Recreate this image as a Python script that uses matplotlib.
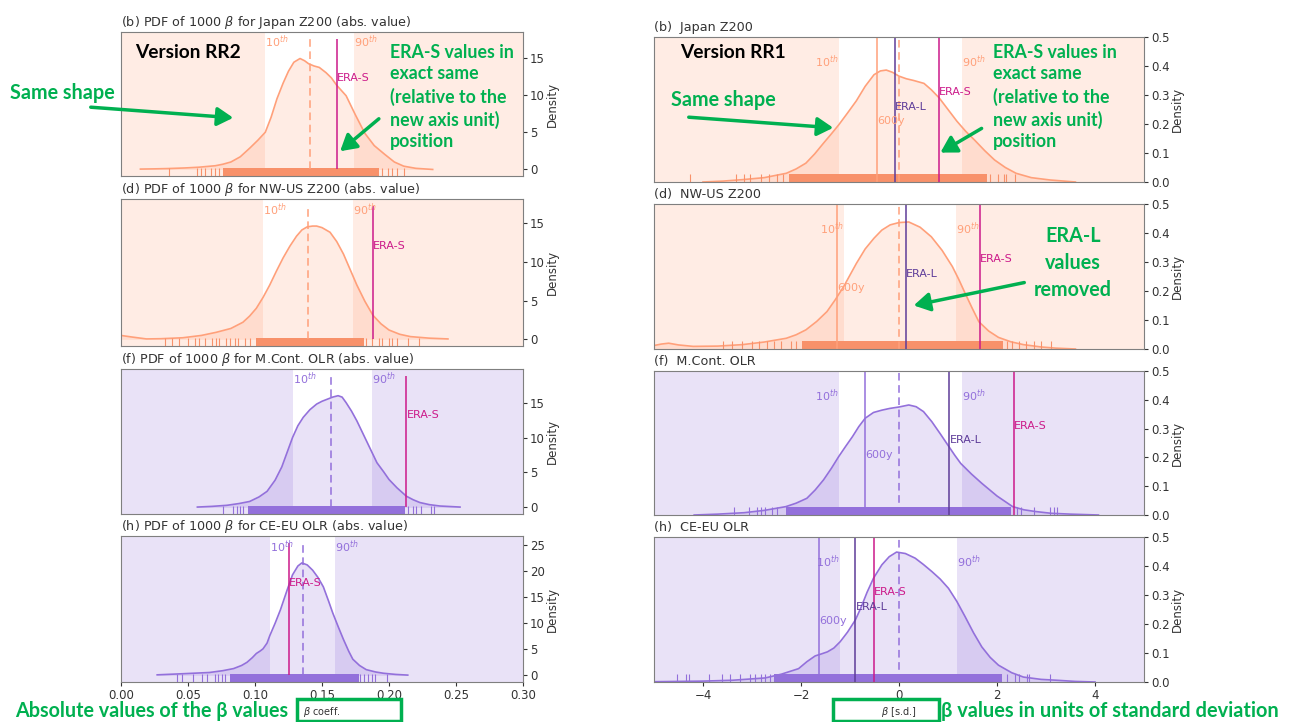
import matplotlib.pyplot as plt
from matplotlib.patches import Rectangle, FancyArrowPatch

W, H = 1290, 722

salmon = "#ffa07a"
salmon_rug = "#f8916a"
purple = "#9370db"
purple_rug = "#9370db"
era_s_col = "#cc1a8a"
era_l_col = "#5e3c99"
green = "#00b050"

# ---------------- RR2 : absolute beta values (left column) ----------------
rr2_titles = ["(b) PDF of 1000 $\\beta$ for Japan Z200 (abs. value)",
              "(d) PDF of 1000 $\\beta$ for NW-US Z200 (abs. value)",
              "(f) PDF of 1000 $\\beta$ for M.Cont. OLR (abs. value)",
              "(h) PDF of 1000 $\\beta$ for CE-EU OLR (abs. value)"]
rr2_p10 = [0.1077, 0.106, 0.128, 0.111]
rr2_p90 = [0.1738, 0.173, 0.187, 0.160]
rr2_median = [0.1408, 0.1396, 0.157, 0.136]
rr2_eras = [0.1614, 0.188, 0.213, 0.1254]
rr2_yticks = [[0, 5, 10, 15], [0, 5, 10, 15], [0, 5, 10, 15], [0, 5, 10, 15, 20, 25]]

jap2_x = [0.0145, 0.025, 0.035, 0.0475, 0.058, 0.0704, 0.076, 0.082, 0.089, 0.0963, 0.102,
          0.1077, 0.112, 0.1164, 0.121, 0.125, 0.129, 0.1336, 0.137, 0.140, 0.144, 0.148,
          0.153, 0.157, 0.161, 0.168, 0.175, 0.182, 0.189, 0.197, 0.204, 0.211, 0.220, 0.2326]
jap2_y = [0.05, 0.08, 0.12, 0.2, 0.3, 0.5, 0.7, 1.0, 1.7, 2.9, 3.9,
          5.0, 7.0, 9.5, 11.6, 13.2, 14.4, 14.9, 14.6, 14.2, 13.9, 13.7,
          13.0, 12.3, 11.3, 9.9, 7.3, 4.85, 3.2, 2.0, 1.0, 0.44, 0.15, 0.0]
nwus2_x = [0.0, 0.008, 0.019, 0.03, 0.046, 0.06, 0.071, 0.082, 0.091, 0.096, 0.101, 0.106,
           0.111, 0.116, 0.121, 0.126, 0.131, 0.135, 0.139, 0.143, 0.146, 0.150, 0.156,
           0.161, 0.166, 0.171, 0.176, 0.182, 0.188, 0.194, 0.200, 0.208, 0.216, 0.230, 0.244]
nwus2_y = [0.5, 0.3, 0.05, 0.08, 0.2, 0.5, 0.9, 1.4, 2.2, 3.0, 4.0, 5.4,
           7.0, 8.8, 10.5, 12.0, 13.3, 14.1, 14.5, 14.6, 14.6, 14.4, 13.8,
           12.6, 11.0, 9.0, 7.0, 4.9, 3.1, 2.0, 1.2, 0.65, 0.35, 0.15, 0.05]
mcont2_x = [0.057, 0.068, 0.079, 0.088, 0.096, 0.103, 0.109, 0.115, 0.12, 0.124, 0.128, 0.132,
            0.136, 0.141, 0.146, 0.150, 0.154, 0.158, 0.162, 0.165, 0.168, 0.172, 0.176,
            0.180, 0.183, 0.187, 0.191, 0.196, 0.200, 0.206, 0.213, 0.218, 0.223, 0.230,
            0.238, 0.253]
mcont2_y = [0.05, 0.15, 0.3, 0.55, 0.85, 1.5, 2.3, 3.9, 5.8, 7.9, 10.0, 11.7,
            12.9, 14.0, 14.8, 15.2, 15.5, 15.8, 16.0, 15.8, 15.0, 13.8, 12.4,
            10.8, 9.6, 8.0, 6.4, 5.1, 4.0, 2.8, 1.6, 1.1, 0.7, 0.4,
            0.2, 0.05]
ceeu2_x = [0.027, 0.045, 0.066, 0.076, 0.084, 0.090, 0.094, 0.098, 0.101, 0.104, 0.106, 0.109,
           0.111, 0.115, 0.119, 0.124, 0.128, 0.132, 0.135, 0.139, 0.143, 0.147, 0.151,
           0.155, 0.158, 0.162, 0.166, 0.170, 0.173, 0.178, 0.183, 0.190, 0.196, 0.205, 0.214]
ceeu2_y = [0.1, 0.3, 0.55, 0.9, 1.3, 1.9, 2.5, 3.4, 4.2, 4.7, 5.1, 6.2,
           7.6, 10.0, 12.6, 16.4, 19.3, 21.0, 21.6, 21.2, 20.2, 18.8, 17.0,
           14.2, 12.0, 9.4, 6.9, 4.6, 3.1, 1.9, 1.1, 0.65, 0.4, 0.18, 0.05]

# rug: dense core range + the scattered ticks outside it
rr2_rug_lo = [0.076, 0.101, 0.095, 0.0811]
rr2_rug_hi = [0.1925, 0.181, 0.212, 0.1773]
jap2_rug = [0.036, 0.057, 0.060, 0.063, 0.067, 0.070, 0.073, 0.195, 0.199, 0.202, 0.206, 0.211]
nwus2_rug = [0.033, 0.038, 0.043, 0.050, 0.055, 0.0585, 0.063, 0.068, 0.0706, 0.073, 0.078,
             0.0816, 0.085, 0.0875, 0.0925, 0.096, 0.1826, 0.1876, 0.1926, 0.195, 0.2,
             0.2025, 0.206, 0.2139, 0.2226]
mcont2_rug = [0.0764, 0.0838, 0.0863, 0.0888, 0.0913, 0.2139, 0.2176, 0.2201, 0.2239,
              0.2313, 0.2338]
ceeu2_rug = [0.0415, 0.0453, 0.054, 0.0602, 0.064, 0.0702, 0.0726, 0.0751, 0.0776,
             0.1785, 0.181, 0.1847, 0.1872, 0.1897, 0.1984]

# ---------------- RR1 : beta in s.d. units (right column) ----------------
rr1_titles = ["(b)  Japan Z200", "(d)  NW-US Z200", "(f)  M.Cont. OLR", "(h)  CE-EU OLR"]
rr1_p10 = [-1.23, -1.13, -1.23, -1.2]
rr1_p90 = [1.29, 1.16, 1.28, 1.18]
rr1_600y = [-0.44, -1.26, -0.69, -1.63]
rr1_eral = [-0.08, 0.15, 1.03, -0.89]
rr1_eras = [0.82, 1.65, 2.34, -0.52]

jap1_x = [-4.0, -3.6, -3.2, -2.75, -2.3, -2.1, -1.9, -1.72, -1.54, -1.38, -1.23, -1.05, -0.87,
          -0.69, -0.51, -0.38, -0.26, -0.13, 0.0, 0.15, 0.3, 0.51, 0.66, 0.82, 1.0, 1.18,
          1.36, 1.54, 1.75, 1.95, 2.17, 2.39, 2.7, 3.08, 3.6]
jap1_y = [0.0, 0.003, 0.008, 0.015, 0.03, 0.045, 0.065, 0.097, 0.134, 0.166, 0.197, 0.238, 0.28,
          0.33, 0.37, 0.383, 0.386, 0.378, 0.365, 0.356, 0.350, 0.34, 0.318, 0.29, 0.25, 0.21,
          0.175, 0.145, 0.108, 0.076, 0.05, 0.03, 0.015, 0.007, 0.0]
nwus1_x = [-5.0, -4.85, -4.7, -4.5, -4.2, -3.7, -3.2, -2.75, -2.3, -2.1, -1.9, -1.68, -1.47,
           -1.3, -1.13, -1.0, -0.87, -0.69, -0.51, -0.35, -0.18, 0.0, 0.2, 0.43, 0.66, 0.88,
           1.09, 1.22, 1.35, 1.49, 1.63, 1.83, 2.03, 2.28, 2.54, 2.9, 3.2, 3.6]
nwus1_y = [0.012, 0.017, 0.02, 0.014, 0.009, 0.01, 0.015, 0.024, 0.037, 0.049, 0.066, 0.095,
           0.129, 0.17, 0.215, 0.255, 0.295, 0.345, 0.382, 0.41, 0.428, 0.436, 0.438, 0.42,
           0.387, 0.34, 0.284, 0.24, 0.192, 0.142, 0.094, 0.062, 0.04, 0.025, 0.015, 0.007,
           0.003, 0.0]
mcont1_x = [-4.18, -3.7, -3.16, -2.75, -2.31, -2.1, -1.88, -1.71, -1.54, -1.38, -1.23, -1.09,
            -0.95, -0.82, -0.69, -0.52, -0.35, -0.19, 0.0, 0.2, 0.35, 0.5, 0.67, 0.85, 1.02,
            1.14, 1.26, 1.48, 1.69, 2.0, 2.32, 2.55, 2.79, 3.1, 3.5, 4.07]
mcont1_y = [0.0, 0.003, 0.008, 0.016, 0.029, 0.041, 0.058, 0.087, 0.122, 0.162, 0.203, 0.238,
            0.272, 0.307, 0.336, 0.356, 0.364, 0.370, 0.375, 0.382, 0.376, 0.359, 0.324,
            0.28, 0.237, 0.207, 0.179, 0.142, 0.110, 0.066, 0.029, 0.018, 0.012, 0.006,
            0.003, 0.0]
ceeu1_x = [-5.0, -4.5, -4.01, -3.4, -2.73, -2.4, -2.05, -1.88, -1.71, -1.58, -1.46, -1.33,
           -1.2, -1.05, -0.89, -0.78, -0.65, -0.52, -0.35, -0.2, -0.05, 0.13, 0.33, 0.5,
           0.67, 0.84, 1.01, 1.18, 1.35, 1.52, 1.69, 1.86, 2.03, 2.3, 2.54, 2.9, 3.22, 3.6, 4.0]
ceeu1_y = [0.001, 0.002, 0.003, 0.006, 0.014, 0.027, 0.046, 0.07, 0.09, 0.097, 0.104, 0.117,
           0.139, 0.172, 0.214, 0.255, 0.31, 0.358, 0.404, 0.432, 0.448, 0.443, 0.427, 0.405,
           0.381, 0.355, 0.323, 0.278, 0.225, 0.17, 0.121, 0.085, 0.058, 0.032, 0.017,
           0.009, 0.006, 0.002, 0.0]

rr1_rug_lo = [-2.24, -1.98, -2.31, -2.56]
rr1_rug_hi = [1.8, 2.13, 2.28, 2.11]
jap1_rug = [-4.27, -3.33, -3.16, -3.04, -2.82, -2.65, -2.48, -2.36, 1.85, 2.02, 2.15, 2.19, 2.36]
nwus1_rug = [-3.6, -3.4, -3.2, -3.0, -2.85, -2.7, -2.55, -2.4, -2.2, -2.1, 2.2, 2.3, 2.45,
             2.6, 2.75, 2.9, 3.1]
mcont1_rug = [-3.37, -3.06, -2.9, -2.82, -2.73, -2.6, -2.48, 2.41, 2.49, 2.75, 3.09, 3.17, 3.22]
ceeu1_rug = [-4.54, -4.35, -4.28, -3.88, -3.62, -3.45, -3.24, -3.05, -2.94, -2.82, -2.73,
             -2.63, 2.2, 2.37, 2.45, 2.62, 2.66, 3.09]

rr2_curves = [(jap2_x, jap2_y), (nwus2_x, nwus2_y), (mcont2_x, mcont2_y), (ceeu2_x, ceeu2_y)]
rr2_rugs = [jap2_rug, nwus2_rug, mcont2_rug, ceeu2_rug]
rr1_curves = [(jap1_x, jap1_y), (nwus1_x, nwus1_y), (mcont1_x, mcont1_y), (ceeu1_x, ceeu1_y)]
rr1_rugs = [jap1_rug, nwus1_rug, mcont1_rug, ceeu1_rug]

row_cols = [(salmon, salmon_rug), (salmon, salmon_rug), (purple, purple_rug), (purple, purple_rug)]

# pixel boxes of the pasted panels (top, bottom)
left_rows = [(32, 176), (199, 346), (369, 514), (536, 682)]
right_rows = [(37, 182), (204, 349), (371, 515), (537, 682)]

fig = plt.figure(figsize=(W / 100, H / 100), dpi=100)


def px_axes(x0, x1, y0, y1):
    return fig.add_axes([x0 / W, 1 - y1 / H, (x1 - x0) / W, (y1 - y0) / H])


def style(ax):
    for s in ax.spines.values():
        s.set_color("#7f7f7f")
    ax.yaxis.tick_right()
    ax.yaxis.set_label_position("right")
    ax.tick_params(labelsize=8.5, colors="#333333", length=3, pad=2)
    ax.set_ylabel("Density", fontsize=8.5, color="#333333", labelpad=1)


RUG_H = 0.055

for i in range(4):
    col, rugc = row_cols[i]
    # ---- left (RR2)
    ax = px_axes(121, 523, *left_rows[i])
    style(ax)
    cx, cy = rr2_curves[i]
    top = 1.18 * max(cy)
    ax.set_xlim(0, 0.30)
    ax.set_ylim(-0.05 * top, 1.05 * top)
    ax.axvspan(0, rr2_p10[i], color=col, alpha=0.2, lw=0)
    ax.axvspan(rr2_p90[i], 0.30, color=col, alpha=0.2, lw=0)
    ax.fill_between(cx, cy, color=col, alpha=0.2, lw=0)
    ax.plot(cx, cy, color=col, lw=1.2)
    ax.axvspan(rr2_rug_lo[i], rr2_rug_hi[i], ymin=0, ymax=RUG_H, color=rugc, lw=0)
    ax.vlines(rr2_rugs[i], 0, RUG_H, transform=ax.get_xaxis_transform(), color=rugc, lw=0.8)
    ax.vlines(rr2_median[i], 0, top, color=col, lw=1.1, linestyles=(0, (5, 3)))
    ax.vlines(rr2_eras[i], 0, top, color=era_s_col, lw=1.1)
    tr = ax.get_xaxis_transform()
    ax.text(rr2_p10[i], 0.93, "10$^{th}$", transform=tr, color=col, fontsize=8, ha="left", va="center")
    ax.text(rr2_p90[i], 0.93, "90$^{th}$", transform=tr, color=col, fontsize=8, ha="left", va="center")
    ax.text(rr2_eras[i], 0.68, "ERA-S", transform=tr, color=era_s_col, fontsize=8, ha="left", va="center")
    ax.set_yticks(rr2_yticks[i])
    ax.set_title(rr2_titles[i], loc="left", fontsize=9.2, color="#333333", pad=4)
    if i < 3:
        ax.set_xticks([])
    else:
        ax.set_xticks([0.0, 0.05, 0.10, 0.15, 0.20, 0.25, 0.30])
        ax.set_xticklabels(["0.00", "0.05", "0.10", "0.15", "0.20", "0.25", "0.30"])
        ax.set_xlabel("$\\beta$ coeff.", fontsize=7, color="#333333", labelpad=2)

    # ---- right (RR1)
    ax = px_axes(654, 1144, *right_rows[i])
    style(ax)
    cx, cy = rr1_curves[i]
    ax.set_xlim(-5, 5)
    ax.set_ylim(0, 0.5)
    ax.axvspan(-5, rr1_p10[i], color=col, alpha=0.2, lw=0)
    ax.axvspan(rr1_p90[i], 5, color=col, alpha=0.2, lw=0)
    ax.fill_between(cx, cy, color=col, alpha=0.2, lw=0)
    ax.plot(cx, cy, color=col, lw=1.2)
    ax.axvspan(rr1_rug_lo[i], rr1_rug_hi[i], ymin=0, ymax=RUG_H, color=rugc, lw=0)
    ax.vlines(rr1_rugs[i], 0, RUG_H, transform=ax.get_xaxis_transform(), color=rugc, lw=0.8)
    ax.axvline(0, color=col, lw=1.1, ls=(0, (5, 3)))
    ax.axvline(rr1_600y[i], color=col, lw=1.1)
    ax.axvline(rr1_eral[i], color=era_l_col, lw=1.1)
    ax.axvline(rr1_eras[i], color=era_s_col, lw=1.1)
    tr = ax.get_xaxis_transform()
    ax.text(rr1_p10[i], 0.83, "10$^{th}$", transform=tr, color=col, fontsize=8, ha="right", va="center")
    ax.text(rr1_p90[i], 0.83, "90$^{th}$", transform=tr, color=col, fontsize=8, ha="left", va="center")
    ax.text(rr1_eras[i], 0.62, "ERA-S", transform=tr, color=era_s_col, fontsize=8, ha="left", va="center")
    ax.text(rr1_eral[i], 0.52, "ERA-L", transform=tr, color=era_l_col, fontsize=8, ha="left", va="center")
    ax.text(rr1_600y[i], 0.42, "600y", transform=tr, color=col, fontsize=8, ha="left", va="center")
    ax.set_yticks([0.0, 0.1, 0.2, 0.3, 0.4, 0.5])
    ax.set_title(rr1_titles[i], loc="left", fontsize=9.2, color="#333333", pad=4)
    if i < 3:
        ax.set_xticks([])
    else:
        ax.set_xticks([-4, -2, 0, 2, 4])
        ax.set_xticklabels(["\u22124", "\u22122", "0", "2", "4"])
        ax.set_xlabel("$\\beta$ [s.d.]", fontsize=7, color="#333333", labelpad=2)

# ---------------- slide annotations ----------------
fam = ["Lato", "DejaVu Sans"]


def ftext(x, y, s, **kw):
    fig.text(x / W, 1 - y / H, s, family=fam, weight="bold", va="center", **kw)


def farrow(x0, y0, x1, y1):
    fig.add_artist(FancyArrowPatch((x0 / W, 1 - y0 / H), (x1 / W, 1 - y1 / H),
                                   transform=fig.transFigure, arrowstyle="-|>,head_length=6,head_width=3.5",
                                   color=green, lw=2.5, mutation_scale=1.6))


ftext(135, 53, "Version RR2", color="black", fontsize=13.8)
ftext(680, 53, "Version RR1", color="black", fontsize=13.8)
ftext(10, 93, "Same shape", color=green, fontsize=14.2)
ftext(671, 100, "Same shape", color=green, fontsize=14.2)
block = "ERA-S values in\nexact same\n(relative to the\nnew axis unit)\nposition"
ftext(390, 97, block, color=green, fontsize=12.8, linespacing=1.34)
ftext(993, 97, block, color=green, fontsize=12.8, linespacing=1.34)
ftext(1073, 263, "ERA-L\nvalues\nremoved", color=green, fontsize=14.2, ha="center", linespacing=1.45)
ftext(15, 711, "Absolute values of the \u03b2 values", color=green, fontsize=14.2)
ftext(941, 711, "\u03b2 values in units of standard deviation", color=green, fontsize=14.4)

farrow(88, 107, 236, 118)
farrow(686, 117, 836, 128)
farrow(381, 117, 338, 153)
farrow(984, 127, 938, 154)
farrow(1027, 282, 911, 306)

for x0, x1 in [(297, 401), (833, 939)]:
    fig.add_artist(Rectangle((x0 / W, 1 - 721 / H), (x1 - x0) / W, 22 / H,
                             transform=fig.transFigure, fill=False, edgecolor=green, lw=2.5))

fig.savefig("out.png", dpi=100)
